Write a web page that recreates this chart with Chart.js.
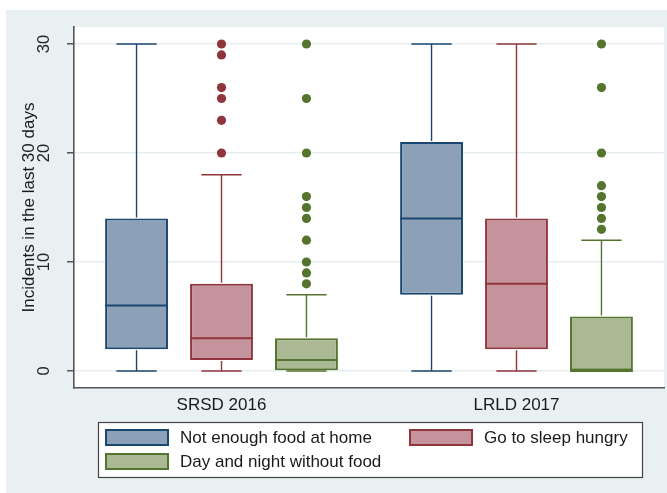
<!DOCTYPE html>
<html>
<head>
<meta charset="utf-8">
<script src="https://cdn.jsdelivr.net/npm/chart.js@4.4.1/dist/chart.umd.min.js"></script>
<style>
  body { margin: 0; background: #fff; }
  canvas { display: block; }
</style>
</head>
<body>
<canvas id="boxChart" width="667" height="493"></canvas>
<script>
// categories and series
var categories = ['SRSD 2016', 'LRLD 2017'];
var seriesLabels = ['Not enough food at home', 'Go to sleep hungry', 'Day and night without food'];

// one row per series, one value per category [SRSD 2016, LRLD 2017]
var whiskerLow = [[0, 0], [0, 0], [0, 0]];
var quartile1 = [[2, 7], [1, 2], [0, 0]];
var medians = [[6, 14], [3, 8], [1, 0]];
var quartile3 = [[14, 21], [8, 14], [3, 5]];
var whiskerHigh = [[30, 30], [18, 30], [7, 12]];
var outliers = [
  [[], []],
  [[20, 23, 25, 26, 29, 30], []],
  [[8, 9, 10, 12, 14, 15, 16, 20, 25, 30], [13, 14, 15, 16, 17, 20, 26, 30]]
];
var yTicks = [0, 10, 20, 30];

var lineColors = ['#1a476f', '#90353b', '#55752f'];
var fillColors = ['#8ca1b7', '#c4939b', '#aab994'];
var fontFamily = '"Liberation Sans", Arial, sans-serif';

var datasets = seriesLabels.map(function(label, i) {
  return {
    label: label,
    data: categories.map(function(c, j) { return [quartile1[i][j], quartile3[i][j]]; }),
    backgroundColor: fillColors[i],
    borderColor: lineColors[i],
    borderWidth: 2,
    borderSkipped: false,
    categoryPercentage: 0.864,
    barPercentage: 0.74
  };
});

// background, white plot region
var backgroundPlugin = {
  id: 'stataBackground',
  beforeDraw: function(chart) {
    var ctx = chart.ctx, a = chart.chartArea;
    ctx.save();
    ctx.fillStyle = '#ffffff';
    ctx.fillRect(0, 0, chart.width, chart.height);
    ctx.fillStyle = '#e8f0f1';
    ctx.fillRect(6, 10, chart.width - 6, chart.height - 10);
    ctx.fillStyle = '#ffffff';
    ctx.fillRect(a.left, a.top, a.right - a.left, a.bottom - a.top);
    ctx.restore();
  }
};

// whiskers, medians and outside values
var boxPlugin = {
  id: 'boxParts',
  afterDatasetsDraw: function(chart) {
    var ctx = chart.ctx;
    var y = chart.scales.y;
    ctx.save();
    chart.data.datasets.forEach(function(ds, i) {
      var meta = chart.getDatasetMeta(i);
      meta.data.forEach(function(bar, j) {
        var p = bar.getProps(['x', 'width'], true);
        var half = p.width / 2;
        var capHalf = p.width * 0.32;
        ctx.strokeStyle = lineColors[i];

        // whiskers
        ctx.lineWidth = 1.4;
        ctx.beginPath();
        if (whiskerHigh[i][j] > quartile3[i][j]) {
          ctx.moveTo(p.x, y.getPixelForValue(quartile3[i][j]) - 1);
          ctx.lineTo(p.x, y.getPixelForValue(whiskerHigh[i][j]));
        }
        if (whiskerLow[i][j] < quartile1[i][j]) {
          ctx.moveTo(p.x, y.getPixelForValue(quartile1[i][j]) + 1);
          ctx.lineTo(p.x, y.getPixelForValue(whiskerLow[i][j]));
        }
        ctx.stroke();

        // caps
        ctx.lineWidth = 1.6;
        ctx.beginPath();
        [whiskerLow[i][j], whiskerHigh[i][j]].forEach(function(v) {
          var py = y.getPixelForValue(v);
          ctx.moveTo(p.x - capHalf, py);
          ctx.lineTo(p.x + capHalf, py);
        });
        ctx.stroke();

        // median
        ctx.lineWidth = 2;
        ctx.beginPath();
        var my = y.getPixelForValue(medians[i][j]);
        ctx.moveTo(p.x - half, my);
        ctx.lineTo(p.x + half, my);
        ctx.stroke();

        // outside values
        ctx.fillStyle = lineColors[i];
        outliers[i][j].forEach(function(v) {
          ctx.beginPath();
          ctx.arc(p.x, y.getPixelForValue(v), 4.6, 0, Math.PI * 2);
          ctx.fill();
        });
      });
    });
    ctx.restore();
  }
};

// rotated y tick labels
var yLabelPlugin = {
  id: 'yTickLabels',
  afterDraw: function(chart) {
    var ctx = chart.ctx, y = chart.scales.y;
    ctx.save();
    ctx.fillStyle = '#262626';
    ctx.font = '16.5px ' + fontFamily;
    ctx.textAlign = 'center';
    ctx.textBaseline = 'middle';
    yTicks.forEach(function(v) {
      ctx.save();
      ctx.translate(44, y.getPixelForValue(v));
      ctx.rotate(-Math.PI / 2);
      ctx.fillText(String(v), 0, 0);
      ctx.restore();
    });
    ctx.restore();
  }
};

// boxed legend, two columns
var legendPlugin = {
  id: 'boxedLegend',
  afterDraw: function(chart) {
    var ctx = chart.ctx;
    var spots = [[106, 430], [410, 430], [106, 454]];
    ctx.save();
    ctx.fillStyle = '#ffffff';
    ctx.fillRect(98, 422, 544, 55);
    ctx.strokeStyle = '#444';
    ctx.lineWidth = 1.2;
    ctx.strokeRect(98.5, 422.5, 544, 55);
    ctx.font = '17px ' + fontFamily;
    ctx.textBaseline = 'middle';
    chart.data.datasets.forEach(function(ds, i) {
      var s = spots[i];
      ctx.fillStyle = ds.backgroundColor;
      ctx.fillRect(s[0], s[1], 62, 15);
      ctx.strokeStyle = ds.borderColor;
      ctx.lineWidth = 2;
      ctx.strokeRect(s[0], s[1], 62, 15);
      ctx.fillStyle = '#1a1a1a';
      ctx.fillText(ds.label, s[0] + 74, s[1] + 8);
    });
    ctx.restore();
  }
};

var ctx = document.getElementById('boxChart').getContext('2d');
var boxChart = new Chart(ctx, {
  type: 'bar',
  data: { labels: categories, datasets: datasets },
  plugins: [backgroundPlugin, boxPlugin, yLabelPlugin, legendPlugin],
  options: {
    responsive: false,
    animation: false,
    devicePixelRatio: 1,
    layout: { padding: { left: 0, top: 27, right: 3, bottom: 0 } },
    plugins: {
      legend: { display: false },
      tooltip: { enabled: false }
    },
    scales: {
      x: {
        grid: { display: false, drawTicks: false, tickLength: 0 },
        border: { color: '#555', width: 1.6 },
        ticks: {
          color: '#1a1a1a',
          padding: 7,
          font: { size: 17, family: fontFamily }
        },
        afterFit: function(scale) { scale.height = 105; }
      },
      y: {
        min: -1.56,
        max: 31.56,
        afterBuildTicks: function(scale) {
          scale.ticks = yTicks.map(function(v) { return { value: v }; });
        },
        grid: { color: '#e6eef0', lineWidth: 1.5, tickColor: '#555', tickLength: 7 },
        border: { color: '#555', width: 1.6 },
        ticks: { display: false },
        title: {
          display: true,
          text: 'Incidents in the last 30 days',
          color: '#1a1a1a',
          font: { size: 17, family: fontFamily },
          padding: { top: 19, bottom: 0 }
        },
        afterFit: function(scale) { scale.width = 74; }
      }
    }
  }
});
</script>
</body>
</html>
